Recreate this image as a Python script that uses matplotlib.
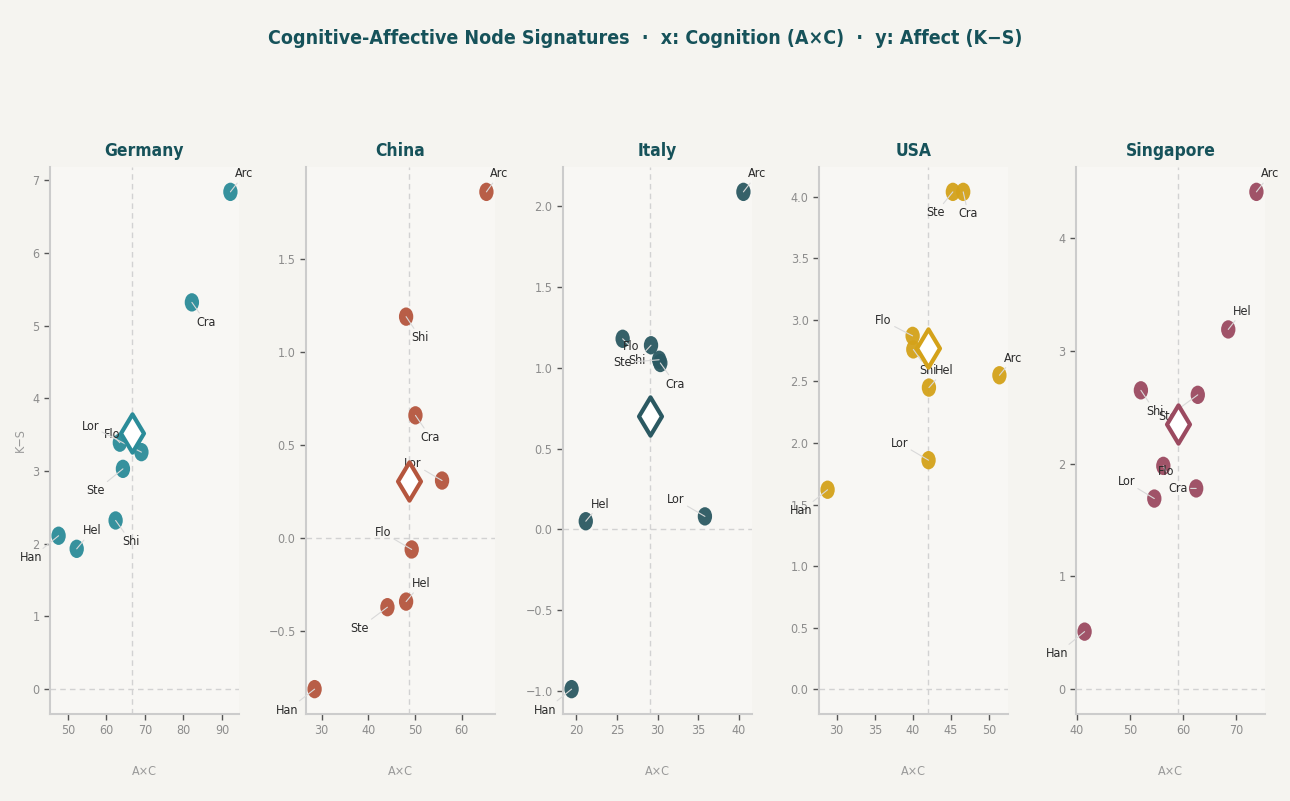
import numpy as np
import matplotlib
matplotlib.use("Agg")
import matplotlib.pyplot as plt
from matplotlib.path import Path

# ---------------- data ----------------
countries = ["Germany", "China", "Italy", "USA", "Singapore"]
nodes = ["Arc", "Cra", "Flo", "Han", "Hel", "Lor", "Shi", "Ste"]

germany_x = [92.2, 82.2, 63.5, 47.6, 52.3, 69.1, 62.4, 64.3]
germany_y = [6.84, 5.32, 3.39, 2.11, 1.93, 3.26, 2.32, 3.03]
china_x = [65.3, 50.1, 49.3, 28.5, 48.1, 55.8, 48.1, 44.1]
china_y = [1.86, 0.66, -0.06, -0.81, -0.34, 0.31, 1.19, -0.37]
italy_x = [40.6, 30.35, 25.7, 19.4, 21.15, 35.85, 29.2, 30.2]
italy_y = [2.09, 1.03, 1.18, -0.99, 0.05, 0.08, 1.14, 1.05]
usa_x = [51.35, 46.6, 39.96, 28.8, 42.1, 42.05, 40.05, 45.24]
usa_y = [2.55, 4.04, 2.87, 1.62, 2.45, 1.86, 2.76, 4.04]
singapore_x = [73.86, 62.5, 56.3, 41.45, 68.55, 54.6, 52.07, 62.8]
singapore_y = [4.41, 1.78, 1.98, 0.51, 3.19, 1.69, 2.65, 2.61]

xs = [germany_x, china_x, italy_x, usa_x, singapore_x]
ys = [germany_y, china_y, italy_y, usa_y, singapore_y]

colors = ["#2b8c99", "#b5563e", "#2b5962", "#d4a21a", "#9b4a60"]

# label offsets in pixels (dx, dy) — layout only
label_offsets = [
    {"Arc": (14, 18), "Cra": (14, -20), "Flo": (-8, 8), "Han": (-27, -22),
     "Hel": (15, 18), "Lor": (-51, 26), "Shi": (15, -21), "Ste": (-27, -22)},
    {"Arc": (13, 18), "Cra": (15, -22), "Flo": (-29, 17), "Han": (-27, -21),
     "Hel": (15, 18), "Lor": (-29, 17), "Shi": (14, -21), "Ste": (-28, -21)},
    {"Arc": (14, 18), "Cra": (15, -21), "Flo": (8, -8), "Han": (-26, -21),
     "Hel": (14, 17), "Lor": (-29, 17), "Shi": (-14, -15), "Ste": (-37, -3)},
    {"Arc": (14, 17), "Cra": (5, -22), "Flo": (-29, 15), "Han": (-26, -21),
     "Hel": (15, 17), "Lor": (-29, 17), "Shi": (15, -21), "Ste": (-17, -21)},
    {"Arc": (14, 18), "Cra": (-18, 0), "Flo": (3, -6), "Han": (-27, -22),
     "Hel": (14, 18), "Lor": (-28, 17), "Shi": (14, -21), "Ste": (-30, -22)},
]

# ---------------- style ----------------
plt.rcParams["font.family"] = ["DejaVu Sans"]
plt.rcParams["font.stretch"] = "condensed"

FIG_BG = "#f5f4f0"
AX_BG = "#f8f7f4"
TITLE_C = "#16525a"

W, H = 1290, 801
fig = plt.figure(figsize=(W / 100, H / 100), dpi=100, facecolor=FIG_BG)

circ = Path.unit_circle()
ell_marker = Path(circ.vertices * np.array([0.78, 1.0]), circ.codes)
dia_marker = Path([(0, 1), (0.6, 0), (0, -1), (-0.6, 0), (0, 1)],
                  [Path.MOVETO, Path.LINETO, Path.LINETO, Path.LINETO, Path.CLOSEPOLY])

lefts = [50, 306, 563, 819, 1076]
ax_w, ax_b, ax_t = 189, 87, 167

for i, c in enumerate(countries):
    ax = fig.add_axes([lefts[i] / W, ax_b / H, ax_w / W, (H - ax_t - ax_b) / H])
    ax.set_facecolor(AX_BG)
    x = np.array(xs[i]); y = np.array(ys[i])
    mx, my = x.mean(), y.mean()
    ax.axvline(mx, color="#d2d2d2", lw=1.0, ls=(0, (4, 3)), zorder=1)
    ax.axhline(0, color="#d2d2d2", lw=1.0, ls=(0, (4, 3)), zorder=1)
    ax.scatter(x, y, s=175, marker=ell_marker, color=colors[i], alpha=0.95,
               edgecolors="none", zorder=3)
    for k, n in enumerate(nodes):
        dx, dy = label_offsets[i][n]
        ax.annotate(n, xy=(x[k], y[k]), xytext=(dx, dy), textcoords="offset pixels",
                    ha="center", va="center", fontsize=9, color="#2a2a2a",
                    arrowprops=dict(arrowstyle="-", color="#d9d9d9", lw=0.8,
                                    shrinkA=0, shrinkB=0),
                    zorder=5)
    ax.scatter([mx], [my], s=760, marker=dia_marker, facecolor="white",
               edgecolor=colors[i], linewidths=3.0, zorder=6)
    for s in ["top", "right"]:
        ax.spines[s].set_visible(False)
    for s in ["left", "bottom"]:
        ax.spines[s].set_color("#cccccc")
        ax.spines[s].set_linewidth(1.5)
    ax.tick_params(colors="#555555", labelcolor="#8c8c8c", labelsize=9, length=4, width=1)
    ax.set_xlabel("A×C", color="#999999", fontsize=9, labelpad=20)
    if i == 0:
        ax.set_ylabel("K−S", color="#999999", fontsize=9, labelpad=4)
    ax.set_title(c, fontsize=12.5, fontweight="bold", color=TITLE_C, pad=8)

fig.text(0.5, 1 - 38 / H,
         "Cognitive-Affective Node Signatures  ·  x: Cognition (A×C)  ·  y: Affect (K−S)",
         ha="center", va="center", fontsize=14, fontweight="bold", color=TITLE_C)

fig.savefig("out.png", dpi=100, facecolor=FIG_BG)
